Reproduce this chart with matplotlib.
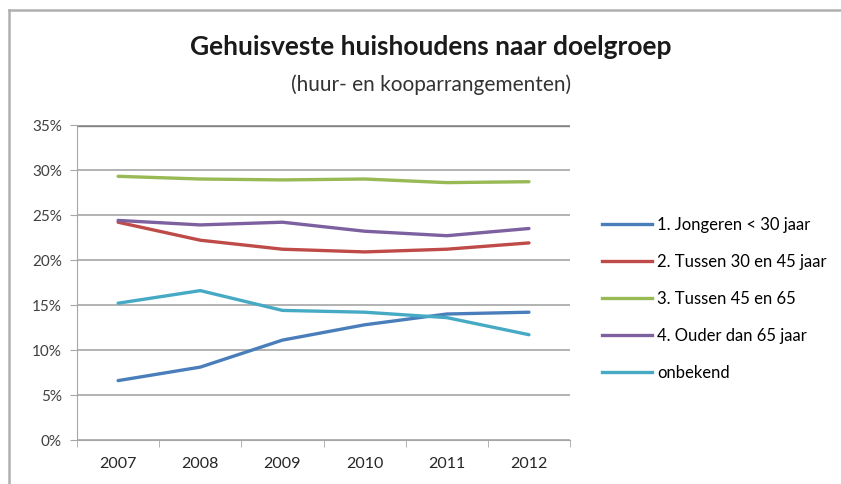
import matplotlib
matplotlib.use('Agg')
from matplotlib import pyplot as plt
from matplotlib.lines import Line2D
from matplotlib.ticker import FixedLocator, PercentFormatter

years = ['2007', '2008', '2009', '2010', '2011', '2012']
jongeren = [6.6, 8.1, 11.1, 12.8, 14.0, 14.2]
tussen_30_45 = [24.2, 22.2, 21.2, 20.9, 21.2, 21.9]
tussen_45_65 = [29.3, 29.0, 28.9, 29.0, 28.6, 28.7]
ouder_65 = [24.4, 23.9, 24.2, 23.2, 22.7, 23.5]
onbekend = [15.2, 16.6, 14.4, 14.2, 13.6, 11.7]

labels = ['1. Jongeren < 30 jaar', '2. Tussen 30 en 45 jaar', '3. Tussen 45 en 65',
          '4. Ouder dan 65 jaar', 'onbekend']
colors = ['#4a7ebb', '#be4b48', '#98b954', '#7d60a0', '#46aac5']
series = [jongeren, tussen_30_45, tussen_45_65, ouder_65, onbekend]

plt.rcParams['font.family'] = ['Lato', 'DejaVu Sans']

fig = plt.figure(figsize=(8.41, 4.84), dpi=100)
ax = fig.add_axes([0.0916, 0.0909, 0.5862, 0.6508])

x = range(len(years))
for vals, c in zip(series, colors):
    ax.plot(x, vals, color=c, lw=2.4, solid_capstyle='round', solid_joinstyle='round')

ax.set_xlim(-0.5, 5.5)
ax.set_ylim(0, 35)
ax.set_yticks(range(0, 36, 5))
ax.yaxis.set_major_formatter(PercentFormatter(decimals=0))
ax.grid(axis='y', color='#a6a6a6', lw=1.2)
ax.set_axisbelow(True)
ax.axhline(35, color='#7f7f7f', lw=2.4, zorder=0.5)

ax.set_xticks(list(x))
ax.set_xticklabels(years)
ax.xaxis.set_minor_locator(FixedLocator([i - 0.5 for i in range(len(years) + 1)]))
ax.tick_params(axis='x', which='major', length=0, pad=12, labelsize=11.5, colors='#262626')
ax.tick_params(axis='x', which='minor', length=5, color='#a6a6a6')
ax.tick_params(axis='y', length=5, color='#a6a6a6', labelsize=11, labelcolor='#404040', pad=6)

for s in ['top', 'right']:
    ax.spines[s].set_visible(False)
ax.spines['left'].set_color('#a6a6a6')
ax.spines['bottom'].set_color('#a6a6a6')

fig.text(0.512, 0.903, 'Gehuisveste huishoudens naar doelgroep', ha='center', va='center',
         fontsize=19, fontweight='bold', color='#1a1a1a')
fig.text(0.512, 0.825, '(huur- en kooparrangementen)', ha='center', va='center',
         fontsize=15, color='#333333')

handles = [Line2D([], [], color=c, lw=2.4) for c in colors]
fig.legend(handles, labels, loc='upper left', bbox_to_anchor=(0.708, 0.565),
           frameon=False, fontsize=12, handlelength=3.0, handletextpad=0.3,
           labelspacing=1.25, borderaxespad=0)

# outer chart frame (top and left edge only visible)
fig.add_artist(Line2D([0.011, 0.011], [0.0, 0.98], color='#b0b0b0', lw=1.8))
fig.add_artist(Line2D([0.011, 1.0], [0.98, 0.98], color='#b0b0b0', lw=1.8))

fig.savefig('out.png', dpi=100)
